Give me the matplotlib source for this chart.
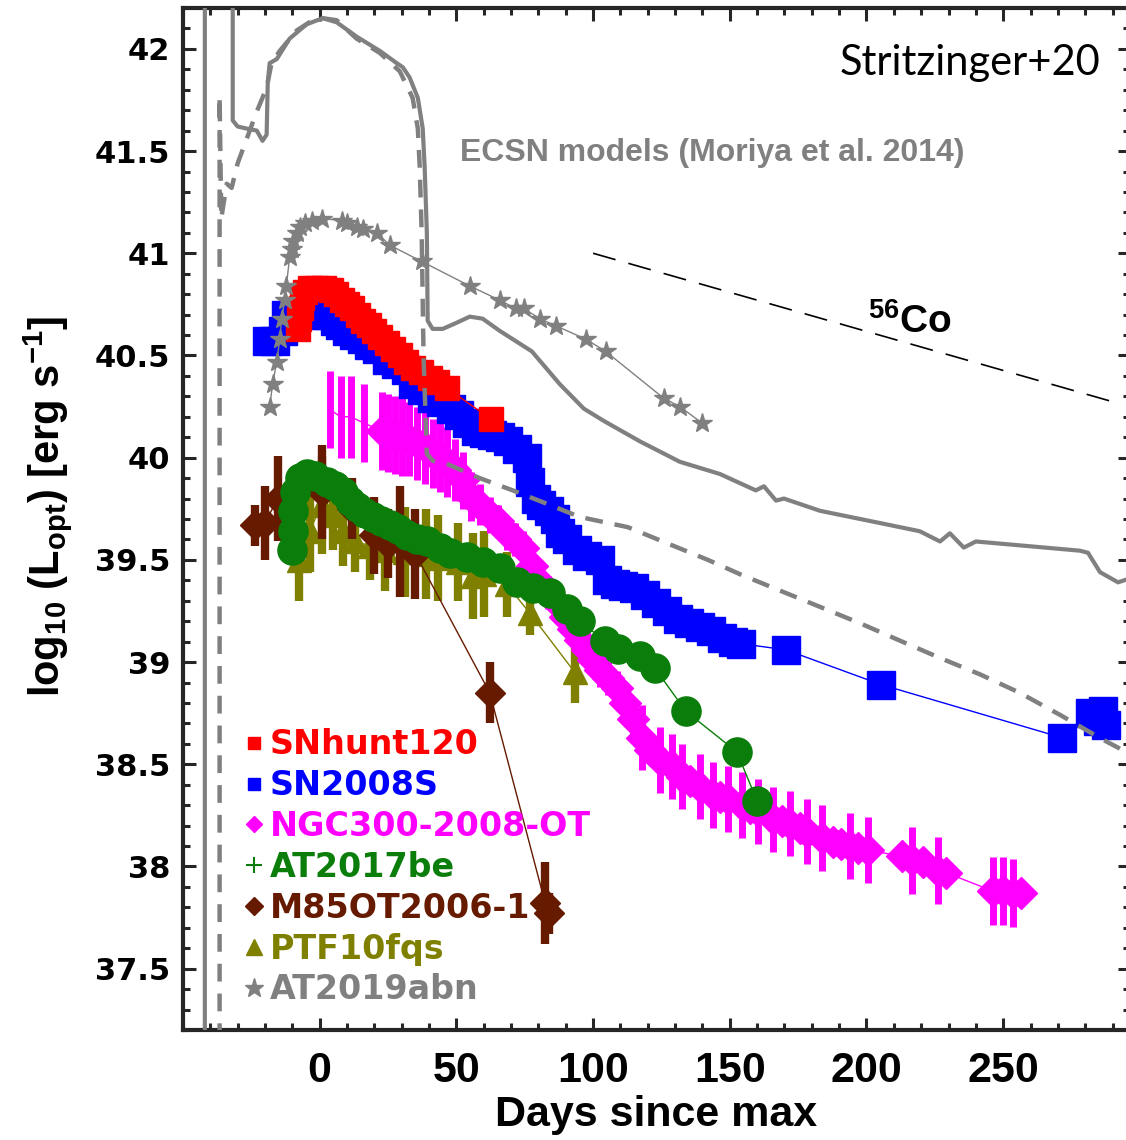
import matplotlib
matplotlib.use("Agg")
import matplotlib.pyplot as plt
from matplotlib.lines import Line2D
from matplotlib.ticker import MultipleLocator

# values: days since max, log10 L_opt
model_solid_day = [-42, -42, -31.8, -31.8, -30, -26.7, -23, -20.9, -19.4, -19, -18.3, -15.7, -11, -4.8,
                   1.1, 6.2, 13.5, 22, 28.2, 30.4, 32.9, 35.9, 37.7, 38.4, 39.2, 39.5, 41.3, 45, 50.1,
                   54.9, 59.6, 65.9, 77.6, 87.8, 96.6, 103.9, 117.1, 131.7, 146.4, 159.5, 162.5, 166.9,
                   169.8, 183, 205, 219.5, 226.9, 230.5, 235.6, 240, 278, 281, 285.4, 292, 296.5]
model_solid_L = [37.0, 43.0, 43.0, 41.65, 41.62, 41.61, 41.6, 41.55, 41.58, 41.83, 41.93, 41.95, 42.05,
                 42.12, 42.15, 42.13, 42.06, 41.99, 41.93, 41.91, 41.86, 41.76, 41.61, 41.42, 41.1,
                 40.67, 40.63, 40.63, 40.66, 40.69, 40.68, 40.62, 40.52, 40.36, 40.24, 40.18, 40.08,
                 39.98, 39.92, 39.84, 39.86, 39.79, 39.80, 39.74, 39.68, 39.64, 39.59, 39.63, 39.56,
                 39.59, 39.545, 39.535, 39.44, 39.39, 39.41]

model_dash_day = [-36.6, -36.6, -36.0, -34, -32.2, -30, -23.1, -19.4, -17.6, -14.6, -8.4, -2.6, 1.1, 6.2,
                  13.5, 22, 29.3, 34, 35.9, 36.6, 37.3, 38.0, 39.2, 41.3, 46.5, 58.5, 70.6, 83, 95.1,
                  112.7, 127.3, 142, 153.7, 168.3, 183, 197.6, 212.2, 226.9, 241.5, 256, 271, 286.5, 296.5]
model_dash_L = [37.0, 41.77, 41.17, 41.34, 41.32, 41.44, 41.69, 41.81, 41.93, 41.99, 42.09, 42.14, 42.15,
                42.14, 42.05, 41.98, 41.89, 41.76, 41.61, 41.42, 41.1, 40.49, 40.02, 39.985, 39.97,
                39.90, 39.84, 39.775, 39.71, 39.66, 39.58, 39.50, 39.43, 39.35, 39.27, 39.19, 39.105,
                39.02, 38.94, 38.85, 38.74, 38.62, 38.55]

co_day = [100, 291]
co_L = [41.0, 40.27]

abn_day = [-18.3, -17.2, -15.7, -14.6, -13.9, -12.8, -12.2, -11, -10.2, -9.9, -8.4, -7.3, -5.5, -2.9,
           0.7, 8, 9.9, 13.5, 15.7, 20.9, 25.6, 37.3, 54.9, 65.9, 71.7, 74.6, 80.5, 86.4, 97.3, 104.6,
           125.9, 131.7, 139.8]
abn_L = [40.25, 40.36, 40.47, 40.58, 40.68, 40.77, 40.84, 40.98, 41.02, 41.06, 41.10, 41.13, 41.15,
         41.16, 41.17, 41.16, 41.15, 41.13, 41.12, 41.10, 41.04, 40.96, 40.84, 40.77, 40.73, 40.73,
         40.68, 40.645, 40.58, 40.52, 40.29, 40.25, 40.17]

hunt_day = [-8, -7.5, -7, -6.5, -5.5, -3.5, -1, 1.5, 4, 6, 8, 10, 12, 14, 16, 18, 20, 22, 24.5, 27,
            29.3, 31.5, 34, 37, 40.2, 43, 46.5, 62.6]
hunt_L = [40.63, 40.68, 40.73, 40.78, 40.81, 40.83, 40.83, 40.83, 40.82, 40.80, 40.77, 40.75, 40.73,
          40.70, 40.67, 40.65, 40.62, 40.59, 40.56, 40.53, 40.50, 40.47, 40.44, 40.42, 40.39, 40.37,
          40.34, 40.19]

sn08_day = [-19.4, -16.5, -13.5, -12.5, -9, -5, -2, 0.5, 3, 5.5, 7.5, 10, 12.5, 15.5, 18, 21, 24.5, 28,
            31.5, 34, 37.5, 41, 44.5, 48, 51, 54, 57, 60, 63, 66, 69, 72, 75.7, 77, 79, 81, 84, 86, 88,
            90.4, 94, 97.7, 102.4, 105, 108, 111, 115, 119, 123, 127, 131, 135, 139, 143, 147, 151,
            154, 170.5, 205.3, 271.5, 281.7, 284.5, 286.5, 287.5]
sn08_L = [40.57, 40.57, 40.62, 40.70, 40.69, 40.70, 40.71, 40.72, 40.70, 40.67, 40.65, 40.62, 40.60,
          40.58, 40.55, 40.53, 40.48, 40.46, 40.43, 40.36, 40.33, 40.29, 40.27, 40.24, 40.21, 40.17,
          40.13, 40.12, 40.11, 40.10, 40.08, 40.04, 40.0, 39.88, 39.80, 39.77, 39.74, 39.70, 39.63,
          39.60, 39.55, 39.52, 39.50, 39.40, 39.38, 39.37, 39.36, 39.33, 39.29, 39.25, 39.21, 39.19,
          39.17, 39.15, 39.12, 39.10, 39.09, 39.06, 38.89, 38.63, 38.75, 38.71, 38.76, 38.69]

ngc_day = [3.7, 7.7, 11.3, 16.1, 22.7, 25, 27.5, 30, 32.5, 35.5, 38.5, 41.3, 44, 46.5, 49.5, 52.5, 55.5,
           58.5, 62.2, 65.3, 68.4, 71.4, 74.3, 77.5, 80.5, 83.6, 86.7, 89.7, 92.6, 95.2, 97.7, 100,
           102.4, 105.5, 108.7, 111.6, 114.5, 117.8, 120.7, 124.4, 128.8, 132.5, 135.5, 139, 143.8,
           146.5, 149.3, 154.4, 157.3, 160.3, 165.8, 169, 172, 175.6, 178.2, 183.7, 187.7, 190.8,
           193.9, 197, 200.5, 213, 216.6, 220.5, 226.1, 229, 246.2, 249.9, 253.6, 256.5]
ngc_L = [40.235, 40.20, 40.20, 40.17, 40.13, 40.12, 40.11, 40.10, 40.09, 40.07, 40.05, 40.02, 40.0,
         39.98, 39.94, 39.89, 39.81, 39.77, 39.72, 39.69, 39.63, 39.60, 39.56, 39.47, 39.39, 39.34,
         39.29, 39.22, 39.16, 39.11, 39.06, 39.01, 38.96, 38.92, 38.875, 38.80, 38.72, 38.63, 38.57,
         38.52, 38.49, 38.44, 38.42, 38.39, 38.35, 38.34, 38.33, 38.30, 38.285, 38.27, 38.23, 38.22,
         38.21, 38.19, 38.17, 38.14, 38.12, 38.11, 38.10, 38.09, 38.08, 38.05, 38.03, 38.02, 37.98,
         37.97, 37.88, 37.88, 37.87, 37.87]
ngc_err = [0.19, 0.20, 0.20, 0.19, 0.19, 0.19, 0.19, 0.19, 0.18, 0.18, 0.18, 0.17, 0.17, 0.17, 0.15,
           0.14, 0.12, 0.10, 0.09, 0.08, 0.08, 0.08, 0.08, 0.08, 0.08, 0.08, 0.08, 0.08, 0.08, 0.08,
           0.08, 0.08, 0.08, 0.08, 0.08, 0.08, 0.08, 0.16, 0.0, 0.16, 0.16, 0.16, 0.0, 0.16, 0.16,
           0.0, 0.16, 0.16, 0.0, 0.16, 0.16, 0.0, 0.16, 0.0, 0.16, 0.16, 0.0, 0.0, 0.16, 0.0, 0.16,
           0.0, 0.165, 0.0, 0.165, 0.0, 0.165, 0.165, 0.165, 0.0]
n_bars_only = 4  # first NGC300 epochs show only error bars

be_day = [-10.2, -9.9, -9.6, -9.0, -7.3, -4.8, -1.8, 2.6, 5.5, 8.4, 11, 13.5, 16.5, 19.4, 22.3, 25.6,
          28.5, 31.8, 35.5, 39.2, 43.9, 47.6, 53.8, 59.6, 65.9, 72.1, 77.9, 84.2, 90.4, 95.1, 104.3,
          109, 117.1, 122.6, 133.9, 152.6, 160]
be_L = [39.55, 39.64, 39.74, 39.83, 39.90, 39.92, 39.91, 39.88, 39.86, 39.83, 39.79, 39.76, 39.73,
        39.71, 39.69, 39.67, 39.65, 39.62, 39.60, 39.59, 39.56, 39.535, 39.516, 39.49, 39.46, 39.39,
        39.36, 39.34, 39.26, 39.20, 39.105, 39.066, 39.03, 38.97, 38.76, 38.56, 38.32]

m85_day = [-23.8, -20, -15.4, 1, 12, 20, 25, 29.5, 35, 62.2, 82.5, 84]
m85_L = [39.67, 39.68, 39.80, 39.83, 39.75, 39.62, 39.58, 39.59, 39.53, 38.85, 37.82, 37.77]
m85_err = [0.10, 0.18, 0.21, 0.23, 0.15, 0.19, 0.17, 0.27, 0.22, 0.15, 0.20, 0.10]

ptf_day = [-7.7, -3.7, 0.7, 4.8, 8.4, 12.8, 18.3, 23.8, 31.1, 38.8, 43.2, 50.5, 56, 60, 68.4, 76.8, 93.3]
ptf_L = [39.50, 39.64, 39.77, 39.72, 39.64, 39.59, 39.57, 39.55, 39.54, 39.53, 39.51, 39.49, 39.42,
         39.43, 39.38, 39.24, 38.95]
ptf_err = [0.20, 0.20, 0.24, 0.17, 0.17, 0.15, 0.17, 0.20, 0.22, 0.22, 0.21, 0.19, 0.21, 0.21, 0.16,
           0.11, 0.15]

labels = ['SNhunt120', 'SN2008S', 'NGC300-2008-OT', 'AT2017be', 'M85OT2006-1', 'PTF10fqs', 'AT2019abn']

red = '#ff0000'
blue = '#0000ff'
magenta = '#ff00ff'
green = '#0a7d0a'
brown = '#661a00'
olive = '#808000'
gray = '#808080'

plt.rcParams['mathtext.fontset'] = 'custom'
plt.rcParams['mathtext.rm'] = 'Liberation Sans'
plt.rcParams['mathtext.bf'] = 'Liberation Sans:bold'

fig = plt.figure(figsize=(11.26, 11.40), dpi=100)
ax = fig.add_axes([0.1625, 0.0965, 0.8411, 0.8965])

# PTF10fqs
ax.plot(ptf_day, ptf_L, '-', color=olive, lw=1, zorder=3)
ax.errorbar(ptf_day, ptf_L, yerr=ptf_err, fmt='^', color=olive, ms=17, elinewidth=6, capsize=0, zorder=3)

# M85OT2006-1
ax.plot(m85_day, m85_L, '-', color=brown, lw=1, zorder=4)
ax.errorbar(m85_day, m85_L, yerr=m85_err, fmt='D', color=brown, ms=15, elinewidth=6, capsize=0, zorder=4)

# NGC300-2008-OT
ax.plot(ngc_day, ngc_L, '-', color=magenta, lw=1, zorder=5)
ax.errorbar(ngc_day[:n_bars_only], ngc_L[:n_bars_only], yerr=ngc_err[:n_bars_only], fmt='none',
            ecolor=magenta, elinewidth=5, capsize=0, zorder=5)
ax.errorbar(ngc_day[n_bars_only:], ngc_L[n_bars_only:], yerr=ngc_err[n_bars_only:], fmt='D',
            color=magenta, ms=16, elinewidth=5, capsize=0, zorder=5)

# SN2008S
ax.plot(sn08_day, sn08_L, '-s', color=blue, ms=20, lw=1, zorder=6)

# SNhunt120
ax.plot(hunt_day, hunt_L, '-s', color=red, ms=17, lw=1, zorder=7)

# AT2017be
ax.plot(be_day, be_L, '-o', color=green, ms=21, lw=1, zorder=8)

# AT2019abn
ax.plot(abn_day, abn_L, '-*', color=gray, ms=15, lw=1, zorder=9)

# ECSN models and 56Co slope
ax.plot(model_solid_day, model_solid_L, '-', color=gray, lw=3, zorder=10)
ax.plot(model_dash_day, model_dash_L, color=gray, lw=3.2, ls=(0, (4, 2.7)), zorder=10)
ax.plot(co_day, co_L, color='k', lw=1.2, ls=(0, (14, 8)), zorder=10)

ax.set_xlim(-50, 296.4)
ax.set_ylim(37.2, 42.2)

ax.set_xticks([0, 50, 100, 150, 200, 250], labels=['0', '50', '100', '150', '200', '250'],
              fontsize=31, fontweight='bold', fontfamily='Liberation Sans')
yt = [37.5, 38, 38.5, 39, 39.5, 40, 40.5, 41, 41.5, 42]
ax.set_yticks(yt, labels=[f'{v:g}' for v in yt], fontsize=22, fontweight='bold', fontfamily='DejaVu Sans')
ax.xaxis.set_minor_locator(MultipleLocator(10))
ax.yaxis.set_minor_locator(MultipleLocator(0.1))
ax.tick_params(which='both', direction='in', top=True, right=True, width=2.2, color='#262626')
ax.tick_params(which='major', length=9)
ax.tick_params(which='minor', length=5)
ax.tick_params(axis='x', which='major', pad=15)
ax.tick_params(axis='y', which='major', pad=9)
for sp in ax.spines.values():
    sp.set_linewidth(3)
    sp.set_color('#262626')

ax.set_xlabel('Days since max', fontsize=31, fontweight='bold', fontfamily='Liberation Sans', va='center')
ax.xaxis.set_label_coords(0.5, -0.083)
ax.set_ylabel(r'log$_{\mathbf{10}}$ (L$_{\mathbf{opt}}$) [erg s$^{\mathbf{-1}}$]', fontsize=30,
              fontweight='bold', fontfamily='Liberation Sans', va='center')
ax.yaxis.set_label_coords(-0.1426, 0.512)

ax.text(0.831, 0.946, 'Stritzinger+20', transform=ax.transAxes, ha='center', va='center',
        fontsize=30, fontfamily='Lato', color='k')
ax.text(0.5586, 0.858, 'ECSN models (Moriya et al. 2014)', transform=ax.transAxes, ha='center',
        va='center', fontsize=23, fontweight='bold', fontfamily='Liberation Sans', color=gray)
ax.text(0.768, 0.693, r'$^{\mathbf{56}}$Co', transform=ax.transAxes, ha='center', va='center',
        fontsize=28, fontweight='bold', fontfamily='Liberation Sans', color='k')

handles = [
    Line2D([], [], ls='none', marker='s', color=red, ms=9),
    Line2D([], [], ls='none', marker='s', color=blue, ms=9),
    Line2D([], [], ls='none', marker='D', color=magenta, ms=8),
    Line2D([], [], ls='none', marker='+', color=green, ms=11, mew=1.5),
    Line2D([], [], ls='none', marker='D', color=brown, ms=9),
    Line2D([], [], ls='none', marker='^', color=olive, ms=12),
    Line2D([], [], ls='none', marker='*', color=gray, ms=14),
]
leg = ax.legend(handles, labels, loc='upper left', bbox_to_anchor=(0.0655, 0.295), frameon=False,
                prop={'family': 'DejaVu Sans', 'weight': 'bold', 'size': 24},
                labelcolor=[red, blue, magenta, green, brown, olive, gray],
                handlelength=0.55, handletextpad=0.2, labelspacing=0.235, borderpad=0, borderaxespad=0)
leg.set_zorder(20)

fig.savefig('out.png', dpi=100)
